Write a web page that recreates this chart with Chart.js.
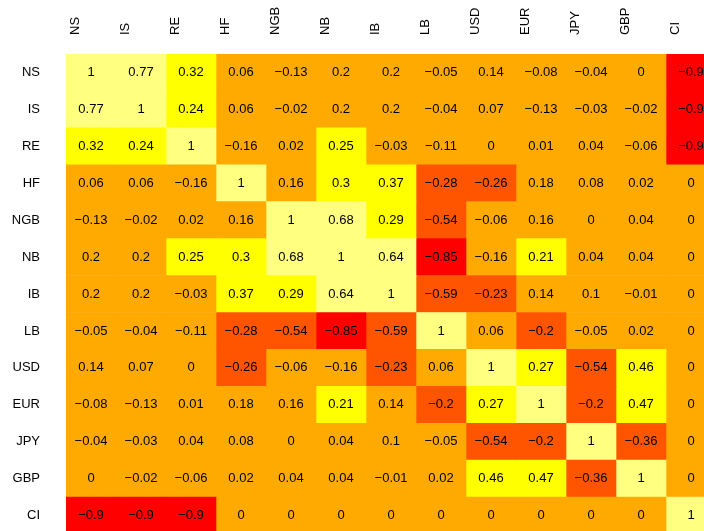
<!DOCTYPE html>
<html>
<head>
<meta charset="utf-8">
<script src="https://cdn.jsdelivr.net/npm/chart.js@4.4.1/dist/chart.umd.min.js"></script>
<style>
html, body { margin:0; padding:0; background:#ffffff; overflow:hidden; }
canvas { display:block; }
</style>
</head>
<body>
<canvas id="heatChart" width="716" height="534"></canvas>
<script>

const names = ["NS","IS","RE","HF","NGB","NB","IB","LB","USD","EUR","JPY","GBP","CI"];

const rowNS  = [1, 0.77, 0.32, 0.06, -0.13, 0.2, 0.2, -0.05, 0.14, -0.08, -0.04, 0, -0.9];
const rowIS  = [0.77, 1, 0.24, 0.06, -0.02, 0.2, 0.2, -0.04, 0.07, -0.13, -0.03, -0.02, -0.9];
const rowRE  = [0.32, 0.24, 1, -0.16, 0.02, 0.25, -0.03, -0.11, 0, 0.01, 0.04, -0.06, -0.9];
const rowHF  = [0.06, 0.06, -0.16, 1, 0.16, 0.3, 0.37, -0.28, -0.26, 0.18, 0.08, 0.02, 0];
const rowNGB = [-0.13, -0.02, 0.02, 0.16, 1, 0.68, 0.29, -0.54, -0.06, 0.16, 0, 0.04, 0];
const rowNB  = [0.2, 0.2, 0.25, 0.3, 0.68, 1, 0.64, -0.85, -0.16, 0.21, 0.04, 0.04, 0];
const rowIB  = [0.2, 0.2, -0.03, 0.37, 0.29, 0.64, 1, -0.59, -0.23, 0.14, 0.1, -0.01, 0];
const rowLB  = [-0.05, -0.04, -0.11, -0.28, -0.54, -0.85, -0.59, 1, 0.06, -0.2, -0.05, 0.02, 0];
const rowUSD = [0.14, 0.07, 0, -0.26, -0.06, -0.16, -0.23, 0.06, 1, 0.27, -0.54, 0.46, 0];
const rowEUR = [-0.08, -0.13, 0.01, 0.18, 0.16, 0.21, 0.14, -0.2, 0.27, 1, -0.2, 0.47, 0];
const rowJPY = [-0.04, -0.03, 0.04, 0.08, 0, 0.04, 0.1, -0.05, -0.54, -0.2, 1, -0.36, 0];
const rowGBP = [0, -0.02, -0.06, 0.02, 0.04, 0.04, -0.01, 0.02, 0.46, 0.47, -0.36, 1, 0];
const rowCI  = [-0.9, -0.9, -0.9, 0, 0, 0, 0, 0, 0, 0, 0, 0, 1];

const matrix = [rowNS, rowIS, rowRE, rowHF, rowNGB, rowNB, rowIB, rowLB, rowUSD, rowEUR, rowJPY, rowGBP, rowCI];

// heat colours, 5 levels
function heat(v){
    if (v < -0.7) return "#FF0000";
    if (v < -0.18) return "#FF5500";
    if (v <= 0.2) return "#FFAA00";
    if (v < 0.6) return "#FFFF00";
    return "#FFFF80";
}

const font = { family:"'Liberation Sans', Arial, sans-serif", size:13 };

// one dataset per column, floating bars across [c-0.5, c+0.5]
const datasets =
    names.map((col, c) => ({
        label:col,
        data:names.map(() => [c - 0.5, c + 0.5]),
        backgroundColor:matrix.map(row => heat(row[c])),
        borderWidth:0,
        barPercentage:1,
        categoryPercentage:1,
        grouped:false
    }));

const cellText = {
    id:"cellText",
    afterDatasetsDraw(chart){
        const ctx = chart.ctx;
        const xs = chart.scales.x;
        const ys = chart.scales.y;
        ctx.save();
        ctx.font = font.size + "px " + font.family;
        ctx.fillStyle = "#000000";
        ctx.textAlign = "center";
        ctx.textBaseline = "middle";
        matrix.forEach((row, r) => {
            row.forEach((v, c) => {
                const txt = String(v).replace("-", "\u2212");
                ctx.fillText(txt, xs.getPixelForValue(c), ys.getPixelForValue(r));
            });
        });
        ctx.restore();
    }
};

new Chart(
    document.getElementById("heatChart"),
    {
        type:"bar",
        data:{
            labels:names,
            datasets:datasets
        },
        options:{
            indexAxis:"y",
            responsive:false,
            animation:false,
            layout:{ padding:0 },
            plugins:{
                legend:{ display:false },
                tooltip:{ enabled:false }
            },
            scales:{
                x:{
                    type:"linear",
                    position:"top",
                    min:-0.5,
                    max:12.5,
                    grid:{ display:false },
                    border:{ display:false },
                    afterBuildTicks(scale){
                        scale.ticks = names.map((n, i) => ({ value:i }));
                    },
                    afterFit(scale){
                        scale.height = 54;
                        scale.paddingLeft = 0;
                        scale.paddingRight = 0;
                    },
                    ticks:{
                        autoSkip:false,
                        minRotation:90,
                        maxRotation:90,
                        padding:11,
                        color:"#000000",
                        font:font,
                        callback:(value) => names[value]
                    }
                },
                y:{
                    type:"category",
                    grid:{ display:false },
                    border:{ display:false },
                    afterFit(scale){
                        scale.width = 66;
                        scale.paddingTop = 0;
                        scale.paddingBottom = 0;
                    },
                    ticks:{
                        padding:18,
                        color:"#000000",
                        font:font
                    }
                }
            }
        },
        plugins:[cellText]
    }
);

</script>
</body>
</html>
